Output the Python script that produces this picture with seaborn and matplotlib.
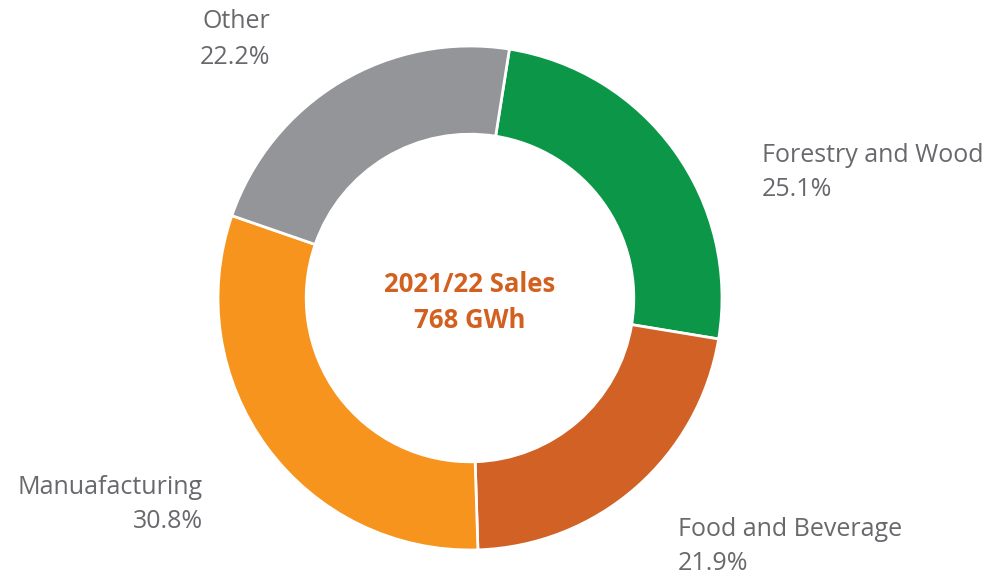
import matplotlib
matplotlib.use("Agg")
import matplotlib.pyplot as plt
import seaborn as sns

sectors = ["Forestry and Wood", "Food and Beverage", "Manuafacturing", "Other"]
shares = [25.1, 21.9, 30.8, 22.2]
colors = ["#0C9647", "#D26126", "#F7941E", "#939598"]
center_lines = ["2021/22 Sales", "768 GWh"]

sns.set_theme(style="white")
plt.rcParams["font.family"] = ["Open Sans", "DejaVu Sans"]

W, H = 989, 578
fig = plt.figure(figsize=(W / 100, H / 100), dpi=100)
# donut: centre ~(470, 298) px, outer radius ~252 px
cx, cy, r = 470, 298, 252
ax = fig.add_axes([(cx - r) / W, (H - cy - r) / H, 2 * r / W, 2 * r / H])
ax.pie(shares, colors=sns.color_palette(colors), startangle=81, counterclock=False,
       radius=1, wedgeprops=dict(width=0.35, edgecolor="white", linewidth=2))
ax.set_xlim(-1, 1)
ax.set_ylim(-1, 1)
ax.set_aspect("equal")
ax.axis("off")

gray = "#68696C"
fs = 18

def px(x, y):
    return x / W, 1 - y / H

# label positions in pixels: (x, y first line, y second line, alignment)
pos = {
    "Forestry and Wood": (762, 155, 189, "left"),
    "Food and Beverage": (678, 530, 564, "left"),
    "Manuafacturing": (203, 488, 522, "right"),
    "Other": (270, 22, 57, "right"),
}
for name, val in zip(sectors, shares):
    x, y1, y2, ha = pos[name]
    fig.text(*px(x, y1), name, ha=ha, va="center", fontsize=fs, color=gray)
    fig.text(*px(x, y2), f"{val}%", ha=ha, va="center", fontsize=fs, color=gray)

fig.text(*px(cx, 284), center_lines[0], ha="center", va="center", fontsize=18.5,
         fontweight="bold", color="#D2601F")
fig.text(*px(cx, 320), center_lines[1], ha="center", va="center", fontsize=18.5,
         fontweight="bold", color="#D2601F")

fig.savefig("out.png", dpi=100, facecolor="white")
